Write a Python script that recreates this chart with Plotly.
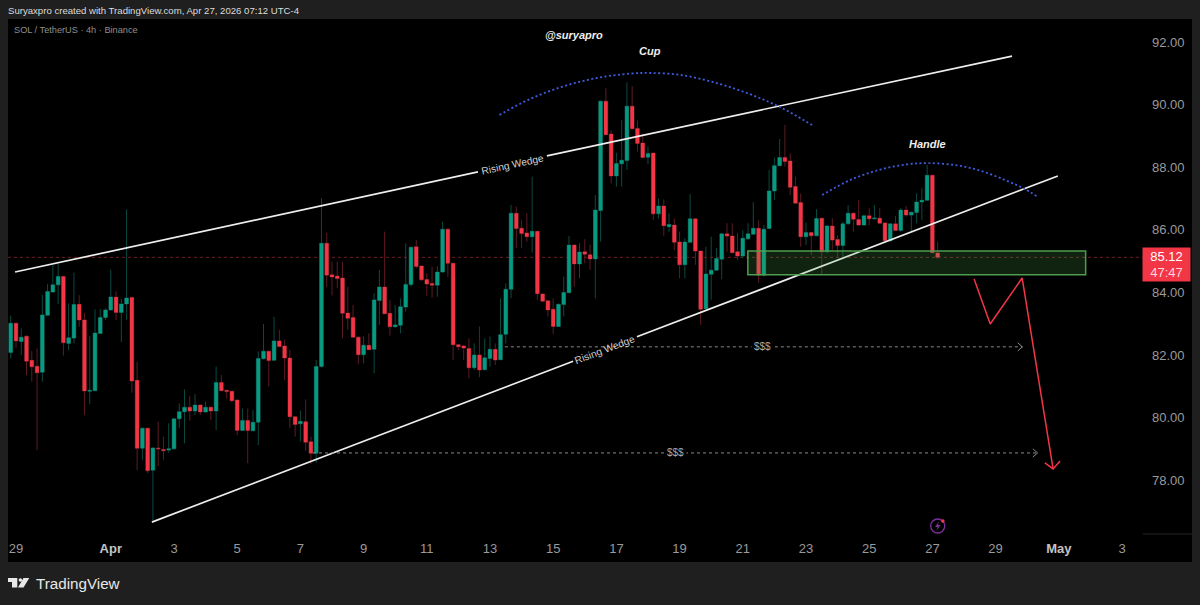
import pandas as pd
import plotly.graph_objects as go

# SOL / USDT 4h candles
opens = [82.08,83.01,82.43,82.60,81.83,81.64,81.45,83.27,84.01,84.24,84.51,82.37,82.54,83.62,83.12,80.84,80.86,82.69,83.20,83.44,
         83.85,83.36,83.63,83.84,81.19,79.02,79.66,78.32,79.03,78.98,78.96,79.00,79.96,80.19,80.33,80.21,80.40,80.18,80.33,80.21,
         81.12,80.87,80.84,80.56,79.59,79.91,79.58,79.85,81.88,82.12,81.83,82.45,82.29,81.90,80.03,79.80,79.87,79.23,78.86,81.63,
         85.57,84.56,84.52,84.46,83.34,83.20,82.57,82.01,82.31,82.18,83.74,84.17,83.33,82.90,82.95,83.53,84.25,85.46,84.84,84.41,
         84.28,84.23,84.65,86.02,84.93,82.33,82.29,82.21,81.59,82.00,81.53,81.89,82.18,81.85,82.66,84.10,86.53,86.05,85.90,85.78,
         85.95,83.95,83.73,83.46,82.91,83.61,83.99,85.51,84.91,85.30,85.20,85.07,86.62,90.11,89.06,87.72,88.11,88.21,89.95,89.24,
         88.77,88.32,88.45,86.51,86.76,86.10,86.15,85.61,84.88,85.60,86.35,85.32,83.48,84.58,84.71,85.06,85.87,85.80,85.30,85.16,
         85.71,85.86,86.05,84.55,86.04,87.24,88.05,88.31,88.20,87.38,86.87,85.78,85.91,85.81,86.37,85.30,86.12,85.69,85.50,86.19,
         86.53,86.33,86.15,86.45,86.35,86.37,86.22,85.65,86.19,85.98,86.63,86.47,86.55,86.89,86.94,87.74,85.26]
highs = [83.26,83.05,82.85,82.62,82.13,82.21,83.92,84.27,84.87,84.91,84.53,83.65,84.63,83.91,83.35,82.61,83.46,83.46,83.49,84.73,
         84.04,83.79,86.65,83.86,81.78,79.68,79.68,79.05,79.87,79.39,79.82,79.98,80.45,80.90,80.69,80.75,80.42,80.51,80.35,81.63,
         81.36,80.89,80.86,80.58,80.29,80.29,80.24,82.11,82.99,82.14,83.22,82.80,82.48,82.16,80.05,80.22,80.58,79.39,81.84,87.01,
         85.91,84.98,84.98,84.98,84.18,83.60,82.59,82.59,82.69,83.97,84.72,85.94,83.76,83.60,83.81,85.57,85.46,85.68,84.86,84.61,
         84.82,84.84,86.26,86.04,84.95,82.35,82.31,82.53,82.37,82.91,82.53,82.59,82.37,83.81,84.29,86.79,86.74,86.31,86.53,87.70,
         85.97,83.97,83.75,83.81,83.64,84.50,85.80,85.53,85.57,85.70,85.52,87.11,90.13,90.52,89.17,88.46,89.51,90.71,90.59,89.49,
         89.08,88.66,88.47,87.00,86.97,86.52,86.36,85.94,85.73,87.14,86.37,85.34,85.46,85.78,85.41,85.89,86.21,86.21,85.89,85.99,
         86.21,86.88,86.31,86.15,87.91,88.31,88.90,89.35,88.44,87.70,87.16,86.23,85.93,86.66,86.39,86.15,86.37,85.83,86.26,86.79,
         86.55,86.95,86.47,86.69,86.79,86.69,86.24,86.21,86.44,86.69,86.76,86.58,87.17,87.33,88.07,87.76,85.62]
lows = [81.89,82.23,82.00,81.36,81.15,78.96,81.15,83.25,84.00,83.63,81.98,82.16,82.37,82.90,80.08,80.43,80.84,82.67,83.12,83.42,
        83.12,82.42,83.12,80.79,78.32,78.64,78.22,76.71,78.45,78.64,78.88,78.98,79.66,79.18,79.90,80.08,80.08,80.16,79.92,79.60,
        80.84,80.61,80.51,79.44,79.57,78.54,79.56,79.12,81.86,80.99,81.81,82.25,81.20,79.66,79.39,79.23,78.94,78.52,78.56,81.60,
        84.18,83.90,84.13,82.53,82.80,82.55,81.71,81.73,82.16,81.42,82.96,83.30,82.62,82.88,82.69,83.39,84.18,84.77,84.38,83.89,
        83.83,83.86,84.63,84.50,81.84,82.16,81.84,81.26,81.52,81.29,81.51,81.63,81.68,81.84,82.37,83.81,85.41,85.41,85.62,85.27,
        83.76,83.70,83.23,82.67,82.89,83.23,83.97,84.18,84.45,84.93,84.72,83.81,85.62,89.02,87.48,87.38,87.38,87.91,89.21,88.50,
        88.28,88.10,86.31,86.36,85.81,85.94,85.35,84.45,84.45,85.58,84.88,82.96,83.44,83.76,84.69,84.42,85.30,85.25,85.03,85.09,
        85.69,85.84,84.31,84.50,86.02,86.95,88.03,88.02,87.11,86.83,85.46,85.51,85.19,85.79,84.56,85.25,85.36,85.14,85.14,86.17,
        85.94,86.13,86.13,86.15,86.33,86.19,85.62,85.62,85.96,85.94,86.42,85.94,86.21,86.31,86.92,85.25,85.06]
closes = [83.01,82.45,82.57,81.80,81.62,81.43,83.28,84.03,84.24,84.51,82.39,82.55,83.61,83.12,80.85,80.87,82.70,83.20,83.44,83.85,
          83.36,83.63,83.82,81.17,79.02,79.66,78.30,79.03,79.00,78.94,79.00,79.96,80.19,80.33,80.21,80.40,80.18,80.33,80.21,81.12,
          80.86,80.83,80.54,79.59,79.91,79.59,79.85,81.89,82.12,81.82,82.45,82.27,81.90,80.03,79.78,79.88,79.21,78.86,81.63,85.57,
          84.55,84.49,84.44,83.33,83.17,82.57,82.01,82.31,82.17,83.76,84.17,83.32,82.90,82.96,83.54,84.25,85.44,84.83,84.40,84.27,
          84.23,84.65,86.02,84.93,82.33,82.26,82.22,81.59,82.00,81.52,81.91,82.18,81.84,82.65,84.10,86.53,86.04,85.88,85.78,85.95,
          83.96,83.72,83.44,82.91,83.62,84.00,85.51,84.91,85.29,85.22,85.07,86.63,90.11,89.04,87.72,88.12,88.22,89.95,89.23,88.76,
          88.31,88.44,86.51,86.76,86.13,86.17,85.60,84.88,85.61,86.35,85.32,83.46,84.59,84.71,85.08,85.87,85.80,85.27,85.16,85.73,
          85.87,86.05,84.55,86.02,87.24,88.05,88.31,88.18,87.36,86.85,85.78,85.91,85.81,86.36,85.30,86.12,85.67,85.50,86.19,86.53,
          86.34,86.15,86.45,86.35,86.38,86.21,85.65,86.19,85.98,86.63,86.47,86.56,86.89,86.94,87.74,85.27,85.12]

price_ticks = [78, 80, 82, 84, 86, 88, 90, 92]
date_ticks = ["2026-03-29", "2026-04-01", "2026-04-03", "2026-04-05", "2026-04-07", "2026-04-09", "2026-04-11",
              "2026-04-13", "2026-04-15", "2026-04-17", "2026-04-19", "2026-04-21", "2026-04-23", "2026-04-25",
              "2026-04-27", "2026-04-29", "2026-05-01", "2026-05-03"]
date_labels = ["29", "Apr", "3", "5", "7", "9", "11", "13", "15", "17", "19", "21", "23", "25", "27", "29", "May", "3"]

last_price = 85.12
countdown = "47:47"

# drawings, x as days after Apr 1
upper_days = [-3.03, 11.62, None, 13.80, 28.52]
upper_prices = [84.65, 87.85, None, 88.36, 91.55]
lower_days = [1.30, 14.63, None, 16.65, 29.97]
lower_prices = [76.66, 81.80, None, 82.58, 87.72]
cup_days = [12.30, 13.27, 14.31, 15.38, 16.43, 17.06, 18.01, 19.06, 20.13, 21.18, 22.19]
cup_prices = [89.67, 90.18, 90.58, 90.85, 90.99, 91.01, 90.95, 90.72, 90.37, 89.92, 89.35]
handle_days = [22.51, 23.40, 24.34, 25.20, 25.87, 26.78, 27.51, 28.30, 28.87, 29.34]
handle_prices = [87.11, 87.59, 87.92, 88.09, 88.13, 88.06, 87.89, 87.59, 87.33, 87.05]
zone_days = [20.16, 30.85]
zone_prices = [84.56, 85.32]
path_days = [27.32, 27.83, 28.84, 29.82]
path_prices = [84.43, 82.99, 84.46, 78.36]
head_days = [29.56, 29.82, 30.04]
head_prices = [78.55, 78.36, 78.61]
target1_days = [12.47, 28.85]
target1_price = 82.26
target2_days = [6.40, 29.33]
target2_price = 78.87

GREEN = "#089981"
RED = "#f23645"
GREEN_WICK = "#0b4a42"
RED_WICK = "#5e1b24"
BG = "#1f1f1f"
FONT = "Liberation Sans"

APR1 = pd.Timestamp("2026-04-01")


def day(d):
    if d is None:
        return None
    return (APR1 + pd.Timedelta(days=d)).strftime("%Y-%m-%d %H:%M:%S")


def days(ds):
    return [day(d) for d in ds]


# pixel helpers for the things that sit outside the chart
def xp(x):
    return (x - 8) / 1132


def yp(y):
    return (534 - y) / 515


times = pd.date_range("2026-03-28 20:00", periods=len(opens), freq="4h")
body_highs = [max(o, c) for o, c in zip(opens, closes)]
body_lows = [min(o, c) for o, c in zip(opens, closes)]

fig = go.Figure()

# wicks are dimmer than the bodies so they get their own trace
fig.add_trace(go.Candlestick(
    x=times, open=opens, high=highs, low=lows, close=closes,
    increasing=dict(line=dict(color=GREEN_WICK, width=1), fillcolor="rgba(0,0,0,0)"),
    decreasing=dict(line=dict(color=RED_WICK, width=1), fillcolor="rgba(0,0,0,0)"),
    whiskerwidth=0, showlegend=False,
))
fig.add_trace(go.Candlestick(
    x=times, open=opens, high=body_highs, low=body_lows, close=closes,
    increasing=dict(line=dict(color=GREEN, width=0), fillcolor=GREEN),
    decreasing=dict(line=dict(color=RED, width=0), fillcolor=RED),
    whiskerwidth=0, showlegend=False,
))


def draw(xs, ys, color="#eeeeee", width=1.7, dash="solid", shape="linear"):
    fig.add_trace(go.Scatter(
        x=days(xs), y=ys, mode="lines", showlegend=False, hoverinfo="skip", connectgaps=False,
        line=dict(color=color, width=width, dash=dash, shape=shape),
    ))


draw(upper_days, upper_prices)
draw(lower_days, lower_prices)
draw(cup_days, cup_prices, "#3f5be0", 1.8, "2px,2.5px", "spline")
draw(handle_days, handle_prices, "#3f5be0", 1.8, "2px,2.5px", "spline")
draw(path_days, path_prices, RED, 1.5)
draw(head_days, head_prices, RED, 1.5)

draw(target1_days, [target1_price] * 2, "#8a8a8a", 1, "dot")
draw(target2_days, [target2_price] * 2, "#8a8a8a", 1, "dot")
for end_day, price in [(target1_days[1], target1_price), (target2_days[1], target2_price)]:
    draw([end_day - 0.15, end_day, end_day - 0.15], [price + 0.13, price, price - 0.13], "#8a8a8a", 1)

shapes = [
    # panel
    dict(type="rect", xref="paper", yref="paper", x0=xp(8), x1=xp(1192), y0=yp(19), y1=yp(562),
         fillcolor="#000000", line=dict(width=0), layer="below"),
    dict(type="line", xref="paper", yref="paper", x0=xp(1143), x1=xp(1192), y0=yp(534), y1=yp(534),
         line=dict(color="#262626", width=1), layer="below"),
    # last price line
    dict(type="line", xref="paper", yref="y", x0=0, x1=xp(1143), y0=last_price, y1=last_price,
         line=dict(color="#6a1f28", width=1, dash="dot"), layer="below"),
    # demand zone
    dict(type="rect", xref="x", yref="y", x0=day(zone_days[0]), x1=day(zone_days[1]),
         y0=zone_prices[0], y1=zone_prices[1], fillcolor="rgba(76,175,80,0.2)",
         line=dict(color="#4f9e4f", width=1.5)),
    # flash icon
    dict(type="circle", xref="paper", yref="paper", x0=xp(930.7), x1=xp(944.7), y0=yp(519), y1=yp(533),
         line=dict(color="#7d2f9c", width=1.3)),
    dict(type="path", xref="paper", yref="paper", fillcolor="#7d2f9c", line=dict(width=0),
         path=f"M {xp(939)} {yp(521.5)} L {xp(935)} {yp(527)} L {xp(937.5)} {yp(527)} L {xp(936.5)} {yp(530.5)} "
              f"L {xp(940.5)} {yp(525)} L {xp(938)} {yp(525)} Z"),
    dict(type="circle", xref="paper", yref="paper", x0=xp(941), x1=xp(944.6), y0=yp(519.2), y1=yp(522.8),
         fillcolor=RED, line=dict(width=0)),
    # TradingView mark
    dict(type="path", xref="paper", yref="paper", fillcolor="#e8e8e8", line=dict(width=0),
         path=f"M {xp(8)} {yp(578)} L {xp(17.3)} {yp(578)} L {xp(17.3)} {yp(587.5)} L {xp(12)} {yp(587.5)} "
              f"L {xp(12)} {yp(582)} L {xp(8)} {yp(582)} Z"),
    dict(type="circle", xref="paper", yref="paper", fillcolor="#e8e8e8", line=dict(width=0),
         x0=xp(18.6), x1=xp(22.2), y0=yp(578.2), y1=yp(581.8)),
    dict(type="path", xref="paper", yref="paper", fillcolor="#e8e8e8", line=dict(width=0),
         path=f"M {xp(23.5)} {yp(578)} L {xp(29.3)} {yp(578)} L {xp(23.5)} {yp(587.5)} L {xp(18)} {yp(587.5)} Z"),
]


def note(text, x, y, size, color="#ffffff", xanchor="center", **kw):
    return dict(text=text, xref="paper", yref="paper", x=xp(x), y=yp(y), showarrow=False,
                xanchor=xanchor, yanchor="middle",
                font=dict(family=FONT, size=size, color=color), **kw)


annotations = [
    note("Suryaxpro created with TradingView.com, Apr 27, 2026 07:12 UTC-4", 6, 10.5, 9.6, "#dddddd", xanchor="left"),
    note("SOL / TetherUS · 4h · Binance", 12, 29.5, 9.2, "#8f8f8f", xanchor="left"),
    note("<b><i>@suryapro</i></b>", 574, 34.5, 11, "#eeeeee"),
    note("<b><i>Cup</i></b>", 650, 51.5, 11, "#eeeeee"),
    note("<b><i>Handle</i></b>", 927, 143.5, 11, "#eeeeee"),
    note("Rising Wedge", 513, 165, 10.2, "#d0d0d0", textangle=-12.2),
    note("Rising Wedge", 605, 349.5, 10.2, "#d0d0d0", textangle=-20.9),
    note("$$$", 762, 346.5, 10, "#a8a8a8", bgcolor="#000000", borderpad=2),
    note("$$$", 675, 452.5, 10, "#a8a8a8", bgcolor="#000000", borderpad=2),
    note(f"{last_price:.2f}<br><span style='color:#ffd5d9'>{countdown}</span>", 1166.5, 264.5, 13, "#ffffff",
         bgcolor=RED, width=45, height=31),
    note("TradingView", 34, 583, 15.2, "#e8e8e8", xanchor="left"),
]

fig.update_layout(
    width=1200, height=605,
    margin=dict(l=8, r=60, t=19, b=71, autoexpand=False),
    paper_bgcolor=BG, plot_bgcolor="rgba(0,0,0,0)",
    showlegend=False, boxmode="overlay", boxgap=0.3, boxgroupgap=0,
    font=dict(family=FONT, color="#9a9a9a", size=13),
    shapes=shapes, annotations=annotations,
    xaxis=dict(
        range=[day(-3.253), day(32.57)], rangeslider=dict(visible=False), showgrid=False, zeroline=False,
        showline=False, ticks="", tickmode="array", tickvals=date_ticks,
        ticktext=[f"<b><span style='color:#c4c4c4'>{t}</span></b>" if t in ("Apr", "May") else t for t in date_labels],
        ticklabelstandoff=5,
    ),
    yaxis=dict(
        range=[76.28, 92.735], side="right", showgrid=False, zeroline=False, showline=False, ticks="",
        tickmode="array", tickvals=price_ticks, ticktext=[f"{p:.2f}" for p in price_ticks],
        ticklabelstandoff=11,
    ),
)

fig.write_html("out.html", config={"displayModeBar": False},
               post_script="document.body.style.margin='0';document.body.style.background='#1f1f1f';document.body.style.overflow='hidden';")
